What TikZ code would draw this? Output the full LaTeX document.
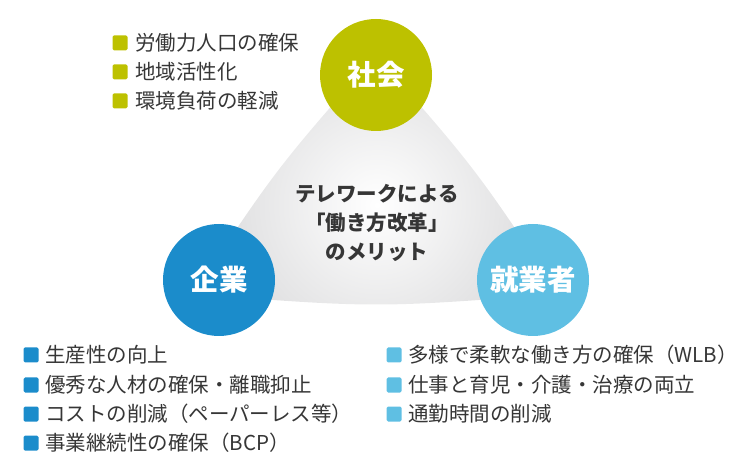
\documentclass[tikz,border=0pt]{standalone}
\usepackage{fontspec}
\setmainfont{Noto Sans CJK JP}
\definecolor{shakai}{HTML}{BDC100}
\definecolor{kigyo}{HTML}{1B8CCB}
\definecolor{shugyo}{HTML}{5FBFE3}
\definecolor{txtgray}{HTML}{363636}
\definecolor{edgegray}{HTML}{CBCBCD}
\begin{document}
\begin{tikzpicture}[x=1pt,y=-1pt, every node/.style={font=\fontsize{20.5}{24}\selectfont,text=txtgray},
  circ/.style={circle,minimum size=112pt,inner sep=0pt,text=white,font=\fontsize{28.5}{30}\selectfont\bfseries},
  bul/.style={rounded corners=1.5pt,minimum size=15pt,inner sep=0pt},
  item/.style={anchor=west,inner sep=0pt}]
\useasboundingbox (0,0) rectangle (750,470);
% gray triangle behind the circles
\coordinate (vt) at (376,55);
\coordinate (vl) at (193,294);
\coordinate (vr) at (559,294);
\begin{scope}
\clip (vt) .. controls (276.6,168.4) .. (vl) .. controls (376,308) .. (vr) .. controls (475.4,168.4) .. (vt) -- cycle;
\shade[inner color=white,outer color=edgegray] (377,205) circle (250);
\end{scope}
\node[align=center,font=\fontsize{20.5}{29}\selectfont\bfseries] (mid) at (377,223) {テレワークによる\\「働き方改革」\\のメリット};
% circles
\node[circ,fill=shakai] (soc) at (376,75) {社会};
\node[circ,fill=kigyo] (ent) at (219,280) {企業};
\node[circ,fill=shugyo] (emp) at (533,280) {就業者};
% society list
\node[bul,fill=shakai] (sb1) at (120,43) {}; \node[item] (st1) at (135,43) {労働力人口の確保};
\node[bul,fill=shakai] (sb2) at (120,72) {}; \node[item] (st2) at (135,72) {地域活性化};
\node[bul,fill=shakai] (sb3) at (120,101) {}; \node[item] (st3) at (135,101) {環境負荷の軽減};
% company list
\node[bul,fill=kigyo] (eb1) at (31,355) {}; \node[item] (et1) at (45,355) {生産性の向上};
\node[bul,fill=kigyo] (eb2) at (31,385) {}; \node[item] (et2) at (45,385) {優秀な人材の確保・離職抑止};
\node[bul,fill=kigyo] (eb3) at (31,414) {}; \node[item] (et3) at (45,414) {コストの削減（ペーパーレス等）};
\node[bul,fill=kigyo] (eb4) at (31,443) {}; \node[item] (et4) at (45,443) {事業継続性の確保（BCP）};
% worker list
\node[bul,fill=shugyo] (wb1) at (394,355) {}; \node[item] (wt1) at (408,355) {多様で柔軟な働き方の確保（WLB）};
\node[bul,fill=shugyo] (wb2) at (394,385) {}; \node[item] (wt2) at (408,385) {仕事と育児・介護・治療の両立};
\node[bul,fill=shugyo] (wb3) at (394,414) {}; \node[item] (wt3) at (408,414) {通勤時間の削減};
\end{tikzpicture}
\end{document}
